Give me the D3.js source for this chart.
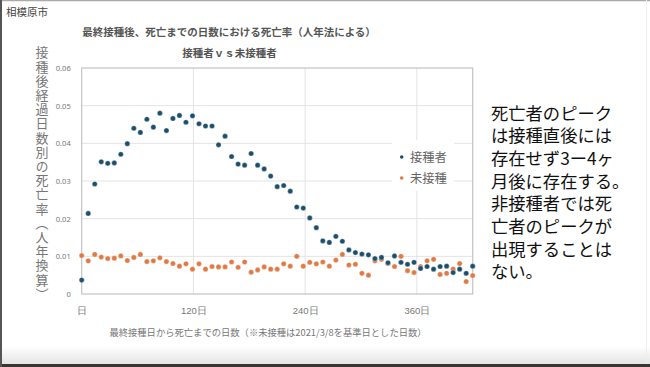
<!DOCTYPE html>
<html><head><meta charset="utf-8">
<script src="https://cdn.jsdelivr.net/npm/d3@7"></script>
<style>
html,body{margin:0;padding:0;background:#fff;}
svg{display:block;font-family:"Noto Sans CJK JP","Noto Sans",sans-serif;}
</style></head>
<body>
<svg id="c" width="650" height="367"></svg>
<script>
// ---- data ----
const days = [0,7,14,21,28,35,42,49,56,63,70,77,84,91,98,105,112,119,126,133,140,147,154,161,168,175,182,189,196,203,210,217,224,231,238,245,252,259,266,273,280,287,294,301,308,315,322,329,336,343,350,357,364,371,378,385,392,399,406,413,420];
const vaccinated = [0.0037,0.0214,0.0292,0.0351,0.0347,0.0348,0.0371,0.0399,0.0440,0.0429,
  0.0464,0.0443,0.0480,0.0434,0.0466,0.0474,0.0456,0.0473,0.0452,0.0446,
  0.0446,0.0396,0.0419,0.0365,0.0345,0.0342,0.0373,0.0342,0.0332,0.0313,
  0.0285,0.0288,0.0273,0.0231,0.0228,0.0202,0.0176,0.0141,0.0137,0.0153,
  0.0140,0.0117,0.0110,0.0106,0.0104,0.0094,0.0097,0.0083,0.0101,0.0084,
  0.0079,0.0084,0.0068,0.0073,0.0066,0.0073,0.0074,0.0057,0.0066,0.0055,
  0.0074];
const unvaccinated = [0.0102,0.0088,0.0105,0.0098,0.0094,0.0095,0.0101,0.0089,0.0097,0.0105,
  0.0086,0.0088,0.0096,0.0086,0.0081,0.0074,0.0080,0.0066,0.0080,0.0066,
  0.0073,0.0072,0.0072,0.0085,0.0071,0.0085,0.0058,0.0064,0.0072,0.0066,
  0.0066,0.0080,0.0074,0.0100,0.0074,0.0084,0.0080,0.0085,0.0074,0.0090,
  0.0105,0.0077,0.0079,0.0055,0.0050,0.0088,0.0092,0.0081,0.0073,0.0100,
  0.0062,0.0057,0.0073,0.0088,0.0092,0.0052,0.0055,0.0066,0.0081,0.0033,
  0.0049];
const seriesNames = ["接種者","未接種"];
const xTickValues = [0,120,240,360];
const xTickLabels = ["日","120日","240日","360日"];
const yTickValues = [0,0.01,0.02,0.03,0.04,0.05,0.06];
const yTickLabels = ["0","0.01","0.02","0.03","0.04","0.05","0.06"];
const noteLines = ["死亡者のピーク","は接種直後には","存在せず3ー4ヶ","月後に存在する。","非接種者では死","亡者のピークが","出現することは","ない。"];

const colors = ["#1c4f6e","#e07a45"];
const svg = d3.select("#c");

// frame
const defs = svg.append("defs");
const grad = defs.append("linearGradient").attr("id","bg").attr("x1",0).attr("y1",0).attr("x2",0).attr("y2",1);
grad.append("stop").attr("offset","0%").attr("stop-color","#ffffff");
grad.append("stop").attr("offset","100%").attr("stop-color","#e4e4e4");
svg.append("rect").attr("x",0).attr("y",346).attr("width",650).attr("height",18).attr("fill","url(#bg)");
svg.append("rect").attr("x",0).attr("y",364).attr("width",650).attr("height",3).attr("fill","#3a3530");
svg.append("line").attr("x1",0).attr("x2",650).attr("y1",0.5).attr("y2",0.5).attr("stroke","#aaa").attr("stroke-width",1.5);
svg.append("rect").attr("x",0).attr("y",0).attr("width",2).attr("height",367).attr("fill","#555");
svg.append("line").attr("x1",646.5).attr("x2",646.5).attr("y1",0).attr("y2",364).attr("stroke","#eee");

svg.append("text").attr("x",6).attr("y",16).attr("font-size",10.5).attr("fill","#444").text("相模原市");

const x = d3.scaleLinear().domain([0,420]).range([81.7,472.7]);
const y = d3.scaleLinear().domain([0,0.06]).range([294,68]);

// grid
svg.append("g").selectAll("line").data(yTickValues.slice(1,-1)).join("line")
  .attr("x1",x(0)).attr("x2",x(420)).attr("y1",d=>y(d)).attr("y2",d=>y(d))
  .attr("stroke","#e3e3e3").attr("stroke-width",1);
svg.append("g").selectAll("line").data(xTickValues.slice(1)).join("line")
  .attr("x1",d=>x(d)).attr("x2",d=>x(d)).attr("y1",y(0)).attr("y2",y(0.06))
  .attr("stroke","#e3e3e3").attr("stroke-width",1);
svg.append("rect").attr("x",x(0)).attr("y",y(0.06)).attr("width",x(420)-x(0)).attr("height",y(0)-y(0.06))
  .attr("fill","none").attr("stroke","#c4c4c4").attr("stroke-width",1.2);

// axes
const ya = svg.append("g").attr("transform",`translate(${x(0)-8},0)`)
  .call(d3.axisLeft(y).tickValues(yTickValues).tickSize(0).tickFormat((d,i)=>yTickLabels[i]));
ya.select(".domain").remove();
ya.selectAll("text").attr("font-size",7.5).attr("fill","#777").attr("font-family","'Noto Sans',sans-serif");

const xa = svg.append("g").attr("transform",`translate(0,${y(0)+10})`)
  .call(d3.axisBottom(x).tickValues(xTickValues).tickSize(0).tickFormat((d,i)=>xTickLabels[i]));
xa.select(".domain").remove();
xa.selectAll("text").attr("font-size",9.5).attr("fill","#777");

// titles
svg.append("text").attr("x",229).attr("y",36).attr("text-anchor","middle").attr("font-size",10.5)
  .attr("font-weight","bold").attr("fill","#555").text("最終接種後、死亡までの日数における死亡率（人年法による）");
svg.append("text").attr("x",229.5).attr("y",57).attr("text-anchor","middle").attr("font-size",10.5)
  .attr("font-weight","bold").attr("fill","#555").text("接種者ｖｓ未接種者");
svg.append("text").attr("x",268).attr("y",336).attr("text-anchor","middle").attr("font-size",9.3)
  .attr("fill","#777").text("最終接種日から死亡までの日数（※未接種は2021/3/8を基準日とした日数）");
svg.append("text").attr("x",42).attr("y",46).attr("font-size",13).attr("fill","#777")
  .attr("letter-spacing",1.2)
  .style("writing-mode","vertical-rl")
  .text("接種後経過日数別の死亡率（人年換算）");

// points
const series = [vaccinated, unvaccinated];
[1,0].forEach(k=>{
  svg.append("g").selectAll("circle").data(days).join("circle")
    .attr("cx",d=>x(d)).attr("cy",(d,i)=>y(series[k][i])).attr("r",2.6)
    .attr("fill",colors[k]).attr("stroke","#fff").attr("stroke-opacity",0.6).attr("stroke-width",0.6);
});

// legend
svg.append("rect").attr("x",392).attr("y",140).attr("width",62).attr("height",51).attr("fill","#fff");
const lg = svg.append("g");
seriesNames.forEach((n,i)=>{
  lg.append("circle").attr("cx",401.7).attr("cy",157+i*21).attr("r",1.8).attr("fill",colors[i]);
  lg.append("text").attr("x",410).attr("y",161.5+i*21).attr("font-size",12.3).attr("fill","#666").text(n);
});

// note (single text block)
const note = svg.append("text").attr("font-size",17.3).attr("fill","#111");
note.selectAll("tspan").data(noteLines).join("tspan")
  .attr("x",491).attr("y",(d,i)=>119.5+i*22.7).text(d=>d);
</script>
</body></html>
